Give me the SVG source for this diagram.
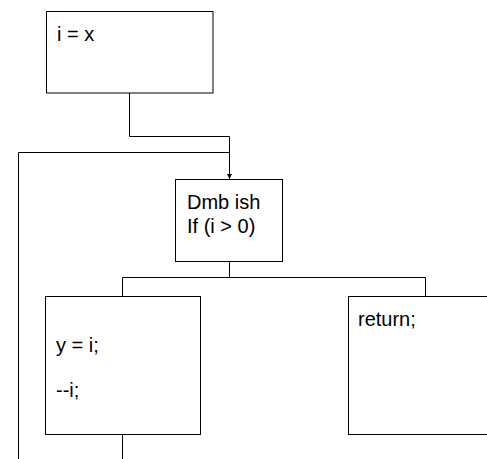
<svg xmlns="http://www.w3.org/2000/svg" width="487" height="459" viewBox="0 0 487 459">
<style>
.box{fill:#fff;stroke:#000;stroke-width:1}
.t{font-family:"Liberation Sans",Arial,sans-serif;font-size:20px;fill:#000}
.c{fill:none;stroke:#000;stroke-width:1}
</style>
<defs>
<marker id="arr" viewBox="0 0 10 10" refX="10" refY="5" markerWidth="5" markerHeight="8" orient="auto" markerUnits="userSpaceOnUse"><path d="M0,0 L10,5 L0,10 z" fill="#000"/></marker>
</defs>
<rect width="487" height="459" fill="#fff"/>
<g id="connectors">
<path class="c" d="M129.5,93 V136.5 H229.5 V179" marker-end="url(#arr)"/>
<path class="c" d="M18.5,459 V152.5 H229.5"/>
<path class="c" d="M229.5,261.5 V277.5"/>
<path class="c" d="M122.5,296.5 V277.5 H425.5 V296.5"/>
<path class="c" d="M122.5,434.5 V459"/>
</g>
<g id="init">
<rect class="box" x="46.5" y="11.5" width="166.5" height="81.5"/>
<text class="t" x="57" y="41">i = x</text>
</g>
<g id="cond">
<rect class="box" x="175.5" y="179.5" width="107" height="82"/>
<text class="t" x="187" y="209">Dmb ish</text>
<text class="t" x="187" y="233">If (i &gt; 0)</text>
</g>
<g id="body">
<rect class="box" x="45.5" y="296.5" width="155" height="138"/>
<text class="t" x="56" y="352">y = i;</text>
<text class="t" x="56" y="397">--i;</text>
</g>
<g id="ret">
<rect class="box" x="348.5" y="296.5" width="155" height="138"/>
<text class="t" x="358" y="326">return;</text>
</g>
</svg>
